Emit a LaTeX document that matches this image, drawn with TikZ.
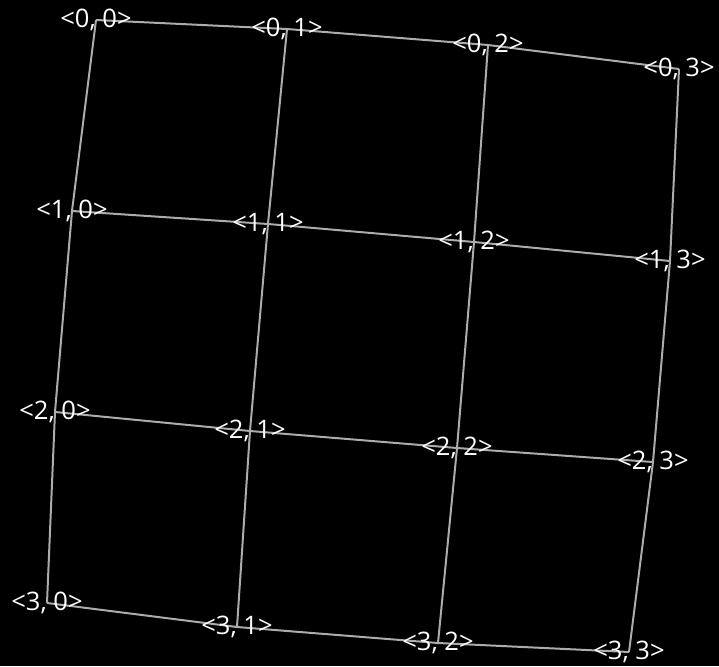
\documentclass[tikz,border=0pt]{standalone}
\usepackage{fontspec}
\setmainfont{Open Sans}
\usepackage{xcolor}
\usepackage{tikz}

\begin{document}
\begin{tikzpicture}[
  x=1pt, y=-1pt,
  edge/.style={draw=gray!65!white, line width=2pt, line join=miter},
  cell/.style={text=white, inner sep=0pt, font=\fontsize{25.5}{30}\selectfont}]
  \fill[black] (0,0) rectangle (719,666);
  \useasboundingbox (0,0) rectangle (719,666);
  % grid points
  \coordinate (p00) at (96,20);
  \coordinate (p01) at (287,29);
  \coordinate (p02) at (488,45);
  \coordinate (p03) at (679,69);
  \coordinate (p10) at (72,211);
  \coordinate (p11) at (268,224);
  \coordinate (p12) at (474,242);
  \coordinate (p13) at (670,261);
  \coordinate (p20) at (55,412);
  \coordinate (p21) at (250,431);
  \coordinate (p22) at (457,448);
  \coordinate (p23) at (653,462);
  \coordinate (p30) at (47,603);
  \coordinate (p31) at (237,627);
  \coordinate (p32) at (438,643);
  \coordinate (p33) at (629,652);
  % rows
  \draw[edge] (p00) -- (p01) -- (p02) -- (p03);
  \draw[edge] (p10) -- (p11) -- (p12) -- (p13);
  \draw[edge] (p20) -- (p21) -- (p22) -- (p23);
  \draw[edge] (p30) -- (p31) -- (p32) -- (p33);
  % columns
  \draw[edge] (p00) -- (p10) -- (p20) -- (p30);
  \draw[edge] (p01) -- (p11) -- (p21) -- (p31);
  \draw[edge] (p02) -- (p12) -- (p22) -- (p32);
  \draw[edge] (p03) -- (p13) -- (p23) -- (p33);
  % labels
  \node[cell] (n00) at (p00) {<0, 0>};
  \node[cell] (n01) at (p01) {<0, 1>};
  \node[cell] (n02) at (p02) {<0, 2>};
  \node[cell] (n03) at (p03) {<0, 3>};
  \node[cell] (n10) at (p10) {<1, 0>};
  \node[cell] (n11) at (p11) {<1, 1>};
  \node[cell] (n12) at (p12) {<1, 2>};
  \node[cell] (n13) at (p13) {<1, 3>};
  \node[cell] (n20) at (p20) {<2, 0>};
  \node[cell] (n21) at (p21) {<2, 1>};
  \node[cell] (n22) at (p22) {<2, 2>};
  \node[cell] (n23) at (p23) {<2, 3>};
  \node[cell] (n30) at (p30) {<3, 0>};
  \node[cell] (n31) at (p31) {<3, 1>};
  \node[cell] (n32) at (p32) {<3, 2>};
  \node[cell] (n33) at (p33) {<3, 3>};
\end{tikzpicture}
\end{document}
